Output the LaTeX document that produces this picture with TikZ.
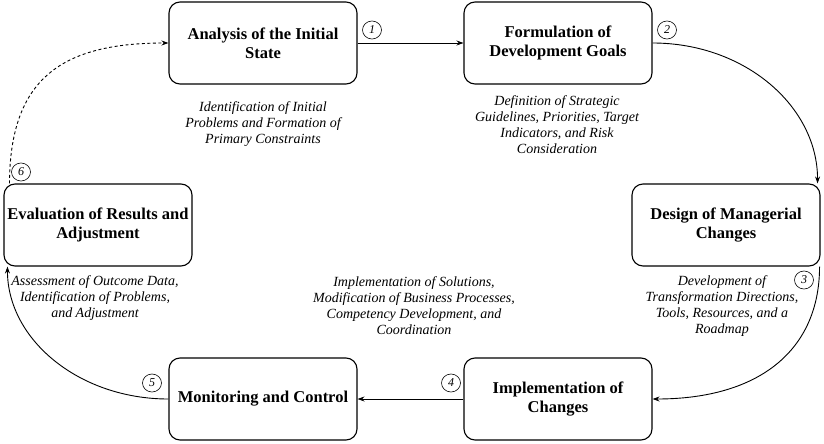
\documentclass[tikz,border=0pt]{standalone}
\usepackage{fontspec}
\setmainfont{Liberation Serif}
\usetikzlibrary{arrows.meta,calc,shapes.geometric}
\begin{document}
\begin{tikzpicture}[x=1pt,y=-1pt,
  stagebox/.style={draw, line width=1.1pt, rounded corners=11pt, minimum width=188pt, minimum height=82pt, align=center, inner sep=2pt, font=\bfseries\fontsize{16.5}{19}\selectfont},
  desc/.style={align=center, inner sep=0pt, font=\itshape\fontsize{14}{16}\selectfont},
  num/.style={ellipse, draw, line width=0.6pt, inner sep=0pt, minimum width=19pt, minimum height=18pt, font=\itshape\fontsize{12}{12}\selectfont},
  flow/.style={line width=0.9pt, -{Stealth[length=7pt,width=5pt]}},
  dflow/.style={flow, dash pattern=on 3pt off 2.5pt}
]
\useasboundingbox (0,0) rectangle (824,444);

\node[stagebox] (A) at (263,43) {Analysis of the Initial\\State};
\node[stagebox] (F) at (558,43) {Formulation of\\Development Goals};
\node[stagebox] (D) at (726,225) {Design of Managerial\\Changes};
\node[stagebox] (I) at (558,399) {Implementation of\\Changes};
\node[stagebox] (M) at (263,399) {Monitoring and Control};
\node[stagebox] (E) at (98,225) {Evaluation of Results and\\Adjustment};

\node[desc] (dA) at (263,124) {Identification of Initial\\Problems and Formation of\\Primary Constraints};
\node[desc] (dF) at (557,125) {Definition of Strategic\\Guidelines, Priorities, Target\\Indicators, and Risk\\Consideration};
\node[desc] (dD) at (722,306) {Development of\\Transformation Directions,\\Tools, Resources, and a\\Roadmap};
\node[desc] (dE) at (95,298) {Assessment of Outcome Data,\\Identification of Problems,\\and Adjustment};
\node[desc] (dM) at (414,306) {Implementation of Solutions,\\Modification of Business Processes,\\Competency Development, and\\Coordination};

\node[num] (n1) at (372,30) {1};
\node[num] (n2) at (667,30) {2};
\node[num] (n3) at (804,280) {3};
\node[num] (n4) at (451,383) {4};
\node[num] (n5) at (152,383) {5};
\node[num] (n6) at (21,172) {6};

\draw[flow] (A.east) -- (F.west);
\draw[flow] (F.east) .. controls (745,43) and ($(D.north east)+(-3,-77)$) .. ($(D.north east)+(-3,0)$);
\draw[flow] ($(D.south east)+(-1,0)$) .. controls ($(D.south east)+(-1,83)$) and (760,399) .. (I.east);
\draw[flow] (I.west) -- (M.east);
\draw[flow] (M.west) .. controls (79,399) and ($(E.south west)+(4,73)$) .. ($(E.south west)+(4,0)$);
\draw[dflow] ($(E.north west)+(6,0)$) .. controls (10,80) and (60,43) .. (A.west);
\end{tikzpicture}
\end{document}
